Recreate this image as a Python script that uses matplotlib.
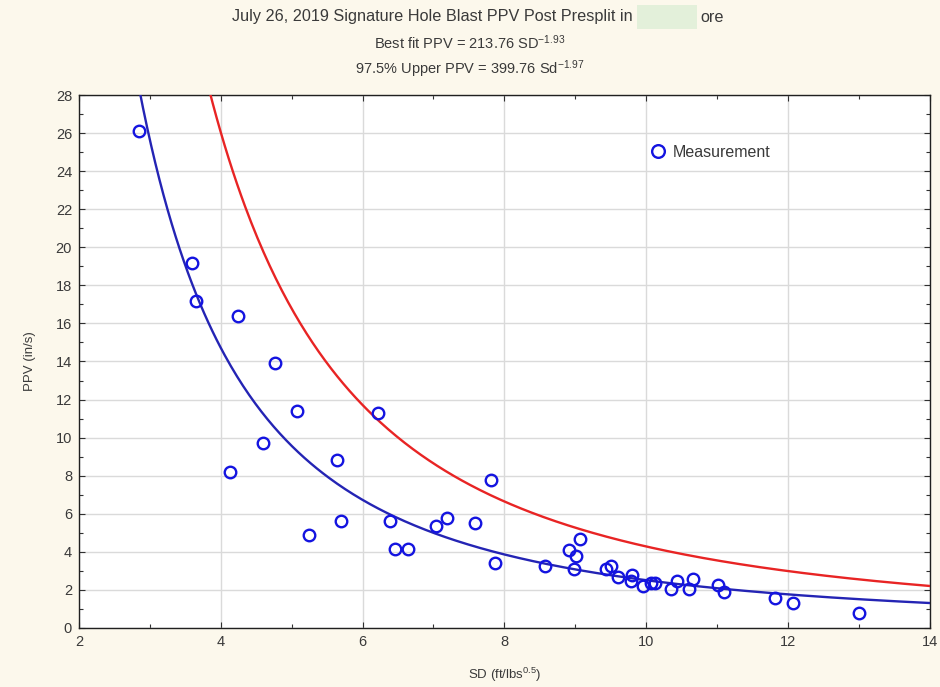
import numpy as np
import matplotlib
matplotlib.use("Agg")
import matplotlib.pyplot as plt
from matplotlib.patches import Rectangle
from matplotlib.ticker import MultipleLocator

plt.rcParams['font.family'] = ['Liberation Sans', 'DejaVu Sans']

# Measurements: scaled distance (ft/lbs^0.5) and PPV (in/s)
sd_values = [2.85, 3.59, 3.65, 4.24, 4.76, 4.13, 4.60, 5.08, 5.24, 5.64, 5.70, 6.22,
             6.39, 6.46, 6.64, 7.04, 7.19, 7.59, 7.81, 7.87, 8.57, 8.91, 9.01, 9.07,
             8.99, 9.43, 9.51, 9.61, 9.80, 9.79, 9.96, 10.07, 10.12, 10.35, 10.44,
             10.60, 10.66, 11.02, 11.10, 11.82, 12.07, 13.01]
ppv_values = [26.1, 19.2, 17.2, 16.4, 13.9, 8.2, 9.7, 11.4, 4.9, 8.8, 5.6, 11.3,
              5.6, 4.15, 4.15, 5.35, 5.8, 5.5, 7.8, 3.4, 3.27, 4.1, 3.78, 4.66,
              3.08, 3.08, 3.26, 2.7, 2.77, 2.49, 2.2, 2.38, 2.38, 2.03, 2.49,
              2.07, 2.56, 2.26, 1.89, 1.56, 1.3, 0.8]

# Fit coefficients given in the chart title
best_k, best_b = 213.76, -1.93
upper_k, upper_b = 399.76, -1.97

title_left = "July 26, 2019 Signature Hole Blast PPV Post Presplit in"
title_right = "ore"
title_line2 = r"Best fit PPV = 213.76 $\mathregular{SD^{-1.93}}$"
title_line3 = r"97.5% Upper PPV = 399.76 $\mathregular{Sd^{-1.97}}$"

bg = '#FCF8EC'
txt = '#3a3a3a'
fig = plt.figure(figsize=(9.4, 6.87), dpi=100, facecolor=bg)
ax = fig.add_axes([0.084, 0.0859, 0.905, 0.7758])
ax.set_facecolor('white')

xs = np.linspace(2.5, 14, 400)
ax.plot(xs, best_k * xs ** best_b, color='#2424B4', lw=1.7, zorder=3)
ax.plot(xs, upper_k * xs ** upper_b, color='#E82424', lw=1.7, zorder=3)
ax.plot(sd_values, ppv_values, 'o', mfc='none', mec='#1414E0', mew=1.7, ms=8.3,
        zorder=4, label='Measurement')

ax.set_xlim(2, 14)
ax.set_ylim(0, 28)
ax.xaxis.set_major_locator(MultipleLocator(2))
ax.xaxis.set_minor_locator(MultipleLocator(1))
ax.yaxis.set_major_locator(MultipleLocator(2))
ax.yaxis.set_minor_locator(MultipleLocator(1))
ax.grid(True, which='major', color='#DADADA', lw=1)
ax.tick_params(which='both', direction='in', top=True, right=True,
               labelsize=10.5, labelcolor=txt, color='#303030')
ax.tick_params(which='major', length=4, width=0.8, pad=5)
ax.tick_params(which='minor', length=3, width=0.8)
for s in ax.spines.values():
    s.set_color('#202020')
    s.set_linewidth(1)

ax.set_xlabel(r"SD (ft/lbs$^{\mathregular{0.5}}$)", fontsize=9.5, color=txt, labelpad=12)
ax.set_ylabel("PPV (in/s)", fontsize=9.5, color=txt, labelpad=14)

leg = ax.legend(loc='center left', bbox_to_anchor=(0.662, 0.892), frameon=False,
                fontsize=11.5, handlelength=0.95, handletextpad=0.45, borderpad=0,
                labelcolor=txt, markerscale=1.1)

fig.text(633 / 940, 1 - 17 / 687, title_left, ha='right', va='center', fontsize=11.7, color=txt)
fig.text(700 / 940, 1 - 17 / 687, title_right, ha='left', va='center', fontsize=11.7, color=txt)
fig.text(0.5, 1 - 43 / 687, title_line2, ha='center', va='center', fontsize=10.5, color=txt)
fig.text(0.5, 1 - 69 / 687, title_line3, ha='center', va='center', fontsize=10.5, color=txt)
fig.patches.append(Rectangle((637 / 940, 1 - 29 / 687), 60 / 940, 24 / 687,
                             transform=fig.transFigure, facecolor='#E3F0DA',
                             edgecolor='none'))

fig.savefig('out.png', dpi=100, facecolor=bg)
